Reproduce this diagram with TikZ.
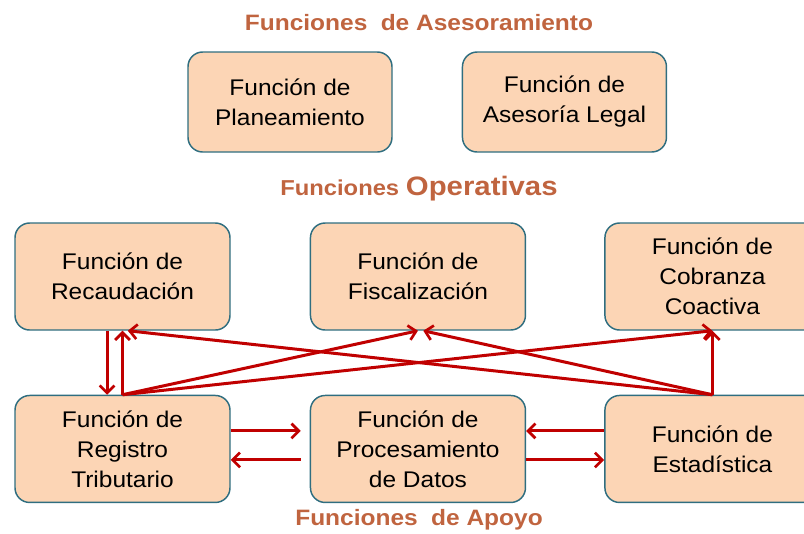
\documentclass[tikz,border=0pt]{standalone}
\usepackage{fontspec}
\setmainfont[FakeStretch=1.08]{Liberation Sans}
\newfontfamily\titlefont[FakeStretch=1.1]{Liberation Sans}
\usepackage{xcolor}
\usetikzlibrary{positioning}
\usetikzlibrary{arrows.meta}
\definecolor{boxfill}{HTML}{FCD5B5}
\definecolor{boxline}{HTML}{2F6E80}
\definecolor{titlecol}{HTML}{C0643F}
\definecolor{arrowred}{HTML}{C00000}

\begin{document}
\begin{tikzpicture}
 [x=0.75pt,y=-0.75pt,
  func/.style={rectangle,rounded corners=11pt,draw=boxline,line width=1.1pt,fill=boxfill,
               align=center,minimum width=161.25pt,minimum height=80.25pt,inner sep=2pt,
               font=\fontsize{17}{22.5}\selectfont},
  advice/.style={func,minimum width=153pt,minimum height=75pt},
  heading/.style={anchor=base,text=titlecol,font=\titlefont\bfseries\fontsize{16.7}{19}\selectfont},
  post/.style={->,>={Straight Barb[length=5.5pt,width=11pt,line width=2pt]},line width=2.25pt,draw=arrowred}]
 \clip (0,0) rectangle (804,533);

 % asesoramiento
 \node[heading] (asesor) at (419,30)  {Funciones\hspace{0.6em}de Asesoramiento};
 \node[advice] (plan)   at (290,102)                {Funci\'on de\\Planeamiento};
 \node[advice] (legal)  [right=51.75pt of plan]     {Funci\'on de\\Asesor\'ia Legal};

 % operativas
 \node[heading] (operat) at (419,195) {{\fontsize{16.2}{19}\selectfont Funciones} {\fontsize{20}{22}\selectfont Operativas}};
 \node[func] (recaud)   at (122.5,276.5)            {Funci\'on de\\Recaudaci\'on};
 \node[func] (fiscal)   [right=59.25pt of recaud]   {Funci\'on de\\Fiscalizaci\'on};
 \node[func] (cobranza) [right=58.5pt of fiscal]    {Funci\'on de\\Cobranza\\Coactiva};

 % apoyo
 \node[func] (registro) [below=48pt of recaud]      {Funci\'on de\\Registro\\Tributario};
 \node[func] (proceso)  [below=48pt of fiscal]      {Funci\'on de\\Procesamiento\\de Datos};
 \node[func] (estad)    [below=48pt of cobranza]    {Funci\'on de\\Estad\'istica};
 \node[heading] (apoyo) at (419,525) {Funciones\hspace{0.6em}de Apoyo};

 \path ([xshift=-11.6pt]recaud.south)
         edge [post] ([xshift=-11.6pt]registro.north)
       (registro.north)
         edge [post] (recaud.south)
         edge [post] (fiscal.south)
         edge [post] (cobranza.south)
       (estad.north)
         edge [post] (cobranza.south)
         edge [post] ([xshift=4pt]fiscal.south)
         edge [post] ([xshift=4pt]recaud.south);

 \path ([yshift=13.5pt]registro.east)
         edge [post, shorten >=6.75pt] ([yshift=13.5pt]proceso.west)
       ([yshift=-8.25pt]proceso.west)
         edge [post, shorten <=6.75pt] ([yshift=-8.25pt]registro.east)
       ([yshift=13.5pt]estad.west)
         edge [post] ([yshift=13.5pt]proceso.east)
       ([yshift=-8.25pt]proceso.east)
         edge [post] ([yshift=-8.25pt]estad.west);
\end{tikzpicture}
\end{document}
